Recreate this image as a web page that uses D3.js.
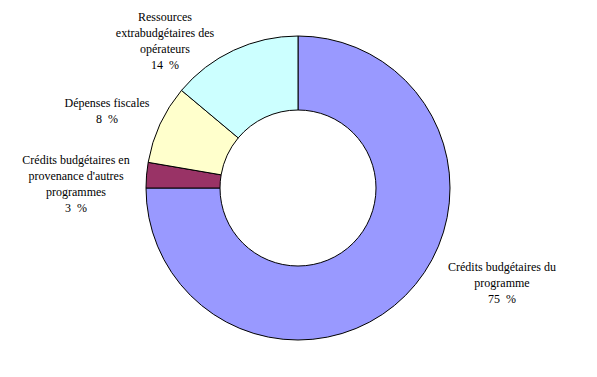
<!DOCTYPE html>
<html>
<head>
<meta charset="utf-8">
<script src="https://cdn.jsdelivr.net/npm/d3@7"></script>
<style>
  body { margin: 0; background: #fff; }
</style>
</head>
<body>
<div id="chart"></div>
<script>
// Data (clockwise from 12 o'clock), shares in %
const categories = [
  "Crédits budgétaires du\nprogramme",
  "Crédits budgétaires en\nprovenance d'autres\nprogrammes",
  "Dépenses fiscales",
  "Ressources\nextrabudgétaires des\nopérateurs"
];
const values = [75, 2.7, 8.4, 13.9];
const colors = ["#9999FF", "#993366", "#FFFFCC", "#CCFFFF"];

// Layout
const width = 597;
const height = 377;
const cx = 298, cy = 188;
const outerR = 152, innerR = 78;
const lineH = 16;
// label centre (x, y of first line)
const labelPos = [[502, 267], [76, 160], [107, 103], [165, 17]];

const svg = d3.select("#chart")
  .append("svg")
  .attr("width", width)
  .attr("height", height);

const pie = d3.pie().sort(null).value((d) => d);
const arc = d3.arc().innerRadius(innerR).outerRadius(outerR);

const g = svg.append("g").attr("transform", `translate(${cx},${cy})`);

g.selectAll("path")
  .data(pie(values))
  .enter()
  .append("path")
  .attr("d", arc)
  .attr("fill", (d, i) => colors[i])
  .attr("stroke", "#000")
  .attr("stroke-width", 1);

// Labels
const fmt = d3.format(".0f");
categories.forEach((cat, i) => {
  const lines = cat.split("\n").concat([fmt(values[i]) + "\u00a0\u00a0%"]);
  const t = svg.append("text")
    .attr("text-anchor", "middle")
    .attr("font-family", "'Liberation Serif', 'DejaVu Serif', 'Times New Roman', serif")
    .attr("font-size", "12px")
    .attr("fill", "#000")
    .attr("x", labelPos[i][0])
    .attr("y", labelPos[i][1] + 4);
  lines.forEach((ln, j) => {
    t.append("tspan")
      .attr("x", labelPos[i][0])
      .attr("dy", j === 0 ? 0 : lineH)
      .text(ln);
  });
});
</script>
</body>
</html>
